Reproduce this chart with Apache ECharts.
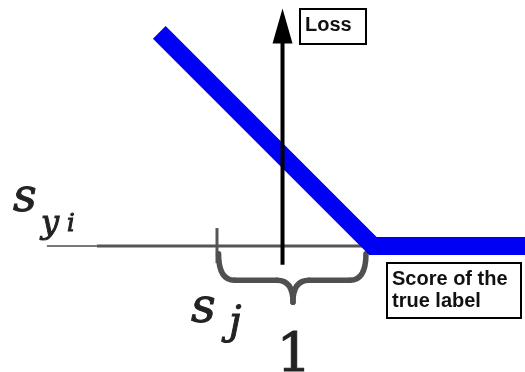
<!DOCTYPE html>
<html>
<head>
<meta charset="utf-8">
<script src="https://cdn.jsdelivr.net/npm/echarts@6/dist/echarts.min.js"></script>
<style>
    html, body { margin: 0; padding: 0; background: #fff; }
    #chart { width: 525px; height: 372px; }
</style>
</head>
<body>
<div id="chart"></div>
<script>
// hinge loss: loss = max(0, 1 - (s_yi - s_j)), x measured from s_j
const lossX = [-0.37, 1, 2.1];
const lossY = [1.37, 0, 0];

// score axis (thin left stub + main part)
const scoreAxisStubX = [-1.09, -0.77];
const scoreAxisX = [-0.77, 2.1];

// loss axis position and extent
const lossAxisX = 0.42;
const lossAxisY = [-0.12, 1.41];

// tick at s_j
const sjTickX = 0;
const sjTickY = [0.115, -0.11];

// brace showing the margin of 1
const braceX = [0.01, 0.487, 0.955];
const braceY = [-0.05, -0.22, -0.36];

const marginLabel = '1';
const lossLabel = 'Loss';
const scoreLabel = 'Score of the\ntrue label';

// pixel scale of the drawing: s_j sits at px 217, baseline at px 246
const U = 156, X0 = 217, Y0 = 246, W = 525, H = 372;

function pts(xs, ys) {
    let out = [];
    for (let i = 0; i < xs.length; i++) out.push([xs[i], ys[i]]);
    return out;
}

function mathText(text, x, baseline, size, italic, align) {
    return {
        type: 'text',
        x: x,
        y: baseline - 0.35 * size,
        z: 5,
        style: {
            text: text,
            font: (italic ? 'italic ' : '') + size + 'px "DejaVu Serif"',
            fill: '#222',
            stroke: '#222',
            lineWidth: 1,
            align: align || 'left',
            verticalAlign: 'middle'
        }
    };
}

let chart = echarts.init(document.getElementById('chart'));

let option = {
    animation: false,
    backgroundColor: '#fff',
    grid: {left: 0, right: 0, top: 0, bottom: 0},
    xAxis: {
        type: 'value', show: false,
        min: -X0 / U, max: (W - X0) / U
    },
    yAxis: {
        type: 'value', show: false,
        min: -(H - Y0) / U, max: Y0 / U
    },
    series: [
        {
            type: 'line', showSymbol: false, z: 1,
            data: [[scoreAxisStubX[0], 0], [scoreAxisStubX[1], 0]],
            lineStyle: {color: '#777', width: 2}
        },
        {
            type: 'line', showSymbol: false, z: 1,
            data: [[scoreAxisX[0], 0], [scoreAxisX[1], 0]],
            lineStyle: {color: '#555', width: 3}
        },
        {
            type: 'line', showSymbol: false, z: 1,
            data: [[sjTickX, sjTickY[0]], [sjTickX, sjTickY[1]]],
            lineStyle: {color: '#555', width: 3}
        },
        {
            type: 'line', showSymbol: false, z: 2,
            data: pts(lossX, lossY),
            lineStyle: {color: '#0000f5', width: 18, cap: 'butt', join: 'miter'}
        },
        {
            type: 'line', z: 3,
            data: [
                {value: [lossAxisX, lossAxisY[0]], symbol: 'none'},
                {value: [lossAxisX, lossAxisY[1]], symbol: 'triangle', symbolSize: [20, 35]}
            ],
            lineStyle: {color: '#000', width: 4},
            itemStyle: {color: '#000'}
        },
        {
            type: 'custom', z: 2,
            data: [[0, 0]],
            renderItem: function (params, api) {
                let l = api.coord([braceX[0], braceY[0]]);
                let m = api.coord([braceX[1], braceY[1]]);
                let t = api.coord([braceX[1], braceY[2]]);
                let r = api.coord([braceX[2], braceY[0]]);
                let k = 16;
                let style = {stroke: '#505050', lineWidth: 5.5, fill: null, lineCap: 'round'};
                return {
                    type: 'group',
                    children: [
                        {type: 'bezierCurve', shape: {x1: l[0], y1: l[1], cpx1: l[0], cpy1: m[1], x2: l[0] + k, y2: m[1]}, style: style},
                        {type: 'line', shape: {x1: l[0] + k, y1: m[1], x2: m[0] - k, y2: m[1]}, style: style},
                        {type: 'bezierCurve', shape: {x1: m[0] - k, y1: m[1], cpx1: m[0], cpy1: m[1], x2: t[0], y2: t[1]}, style: style},
                        {type: 'bezierCurve', shape: {x1: t[0], y1: t[1], cpx1: m[0], cpy1: m[1], x2: m[0] + k, y2: m[1]}, style: style},
                        {type: 'line', shape: {x1: m[0] + k, y1: m[1], x2: r[0] - k, y2: m[1]}, style: style},
                        {type: 'bezierCurve', shape: {x1: r[0] - k, y1: m[1], cpx1: r[0], cpy1: m[1], x2: r[0], y2: r[1]}, style: style}
                    ]
                };
            }
        }
    ],
    graphic: [
        {type: 'rect', shape: {x: 300, y: 9, width: 66, height: 35}, style: {fill: '#fff', stroke: '#000', lineWidth: 2}, z: 10},
        {type: 'text', x: 305, y: 25, z: 11, style: {text: lossLabel, font: 'bold 20px "Liberation Sans"', fill: '#111', verticalAlign: 'middle'}},
        {type: 'rect', shape: {x: 387, y: 263, width: 134, height: 55}, style: {fill: '#fff', stroke: '#000', lineWidth: 2}, z: 10},
        {type: 'text', x: 392, y: 268, z: 11, style: {text: scoreLabel, font: 'bold 20px "Liberation Sans"', lineHeight: 22, fill: '#111', verticalAlign: 'top'}},
        mathText('s', 13, 215, 46, true),
        mathText('y', 41, 236, 32, true),
        mathText('i', 67, 233, 24, true),
        mathText('s', 191, 326, 48, true),
        mathText('j', 229, 338, 40, true),
        mathText(marginLabel, 294, 377, 55, false, 'center')
    ]
};

chart.setOption(option);
</script>
</body>
</html>
